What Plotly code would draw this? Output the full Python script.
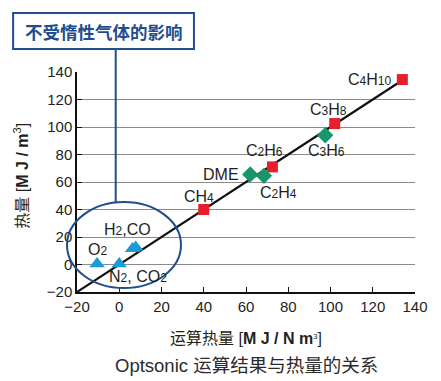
import plotly.graph_objects as go

# ---- data ----
alkane_names = ["CH4", "C2H6", "C3H8", "C4H10"]
alkane_x = [40, 72.5, 102, 134]
alkane_y = [40, 71, 102.5, 134.5]

other_names = ["DME", "C2H4", "C3H6"]
other_x = [62, 68.5, 97.5]
other_y = [65.5, 64.5, 94]

inert_names = ["O2", "N2, CO2", "H2", "CO"]
inert_x = [-10.5, 0, 6.3, 7.8]
inert_y = [0.5, 0.5, 11.5, 12.5]

fit_x = [-20, 134]
fit_y = [-20, 134]

tick_vals = [-20, 0, 20, 40, 60, 80, 100, 120, 140]
x_range = [-20, 140]
y_range = [-20, 140]

FONT = "Liberation Sans, Arial, Noto Sans CJK SC, sans-serif"
TXT = "#231f20"
BLUE = "#1f4e8e"

def sub(s):
    return f"<span style='font-size:12px'>{s}</span>"

labels = {
    "C4H10": ("C" + sub("4") + "H" + sub("10"), "right", -9, 0),
    "C3H8": ("C" + sub("3") + "H" + sub("8"), "center", -6, 14),
    "C3H6": ("C" + sub("3") + "H" + sub("6"), "center", 1, -15),
    "C2H6": ("C" + sub("2") + "H" + sub("6"), "center", -8, 16),
    "C2H4": ("C" + sub("2") + "H" + sub("4"), "center", 15, -17),
    "DME": ("DME", "right", -9, 0),
    "CH4": ("CH" + sub("4"), "center", -5, 13),
    "O2": ("O" + sub("2"), "center", 0, 14),
    "N2, CO2": ("N" + sub("2") + ", CO" + sub("2"), "center", 19, -13),
    "H2": ("H" + sub("2") + ",CO", "center", -5, 19),
}

fig = go.Figure()
fig.add_trace(go.Scatter(x=fit_x, y=fit_y, mode="lines",
                         line=dict(color="#111111", width=2.2), hoverinfo="skip"))
fig.add_trace(go.Scatter(x=alkane_x, y=alkane_y, mode="markers",
                         marker=dict(symbol="square", size=11, color="#e81f2a")))
fig.add_trace(go.Scatter(x=other_x, y=other_y, mode="markers",
                         marker=dict(symbol="diamond", size=12.5, color="#17966a")))
fig.add_trace(go.Scatter(x=inert_x, y=inert_y, mode="markers",
                         marker=dict(symbol="triangle-up", size=13.5, color="#1b9bd7")))

annots = []
for names, xs, ys in [(alkane_names, alkane_x, alkane_y),
                      (other_names, other_x, other_y),
                      (inert_names, inert_x, inert_y)]:
    for n, x, y in zip(names, xs, ys):
        if n not in labels:
            continue
        t, anc, dx, dy = labels[n]
        annots.append(dict(x=x, y=y, xref="x", yref="y", text=t, showarrow=False,
                           xanchor=anc, yanchor="middle", xshift=dx, yshift=dy,
                           font=dict(size=16, color=TXT, family=FONT)))

# axis titles and caption
annots.append(dict(x=0.5, y=-0.21, xref="paper", yref="paper", showarrow=False,
                   text="运算热量 [<b>M J / N m</b><span style='font-size:11px'><sup>3</sup></span>]",
                   font=dict(size=16, color=TXT, family=FONT), yanchor="middle"))
annots.append(dict(x=-0.165, y=0.53, xref="paper", yref="paper", showarrow=False,
                   text="热量 [<b>M J / m</b><sup>3</sup>]", textangle=-90,
                   font=dict(size=16, color=TXT, family=FONT), xanchor="center"))
annots.append(dict(x=0.5, y=-0.332, xref="paper", yref="paper", showarrow=False,
                   text="Optsonic 运算结果与热量的关系",
                   font=dict(size=18.5, color="#2b2b2b", family=FONT), yanchor="middle"))
# callout box
annots.append(dict(x=(-0.189 + 0.346) / 2, y=(1.1045 + 1.268) / 2, xref="paper", yref="paper",
                   showarrow=False, text="<b>不受惰性气体的影响</b>",
                   font=dict(size=17.5, color=BLUE, family="Noto Sans CJK SC"),
                   xanchor="center", yanchor="middle"))

shapes = [
    dict(type="rect", xref="paper", yref="paper", x0=-0.189, x1=0.346, y0=1.1045, y1=1.268,
         line=dict(color=BLUE, width=2)),
    dict(type="line", xref="paper", yref="paper", x0=0.1145, x1=0.1145, y0=1.1045, y1=0.409,
         line=dict(color=BLUE, width=2)),
    dict(type="circle", xref="paper", yref="paper", x0=-0.0296, x1=0.3077, y0=0.018, y1=0.409,
         line=dict(color=BLUE, width=2)),
]

fig.update_layout(
    width=441, height=381,
    margin=dict(l=77, r=26, t=72, b=89),
    paper_bgcolor="white", plot_bgcolor="white",
    showlegend=False,
    annotations=annots, shapes=shapes,
    font=dict(family=FONT, size=14, color=TXT),
    xaxis=dict(range=x_range, tickvals=tick_vals, showgrid=False, zeroline=False,
               showline=True, linecolor="#111111", linewidth=1.5,
               ticks="inside", ticklen=5, tickcolor="#111111",
               tickfont=dict(size=15, color=TXT, family=FONT)),
    yaxis=dict(range=y_range, tickvals=tick_vals, showgrid=True, gridcolor="#8c8c8c",
               gridwidth=1.2, zeroline=False,
               showline=True, linecolor="#111111", linewidth=1.5,
               ticks="inside", ticklen=5, tickcolor="#111111",
               tickfont=dict(size=15, color=TXT, family=FONT)),
)

fig.write_html("out.html", config={"displayModeBar": False},
               post_script="document.body.style.margin='0';")
